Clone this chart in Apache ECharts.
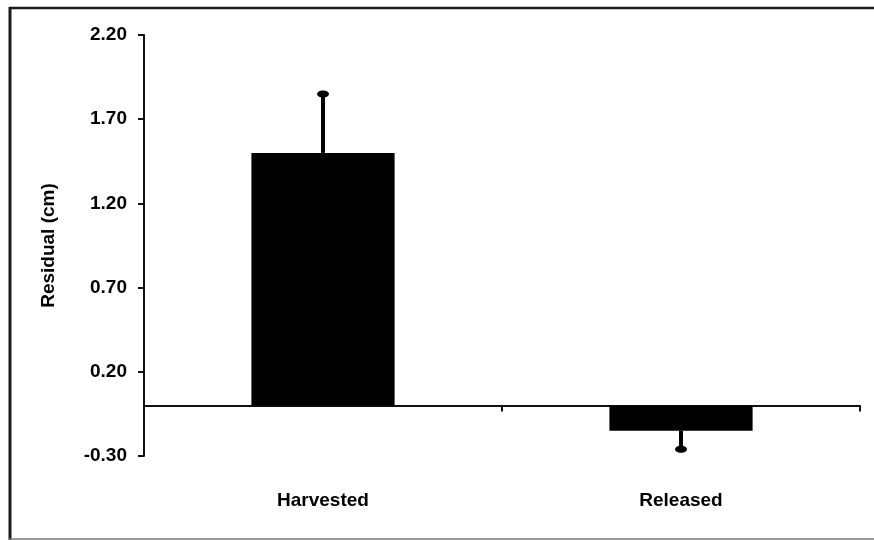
<!DOCTYPE html>
<html>
<head>
<meta charset="utf-8">
<script src="https://cdn.jsdelivr.net/npm/echarts@6/dist/echarts.min.js"></script>
<style>
  html, body { margin: 0; padding: 0; background: #fff; }
  #chart { width: 874px; height: 540px; }
</style>
</head>
<body>
<div id="chart"></div>
<script>
// Mean residual length by fate, with one-sided standard error bars
var categories = ['Harvested', 'Released'];
var residuals = [1.50, -0.15];
var stdErrors = [0.35, 0.11];
var yTicks = [-0.30, 0.20, 0.70, 1.20, 1.70, 2.20];

var FONT = '"Liberation Sans", Arial, sans-serif';
var INK = '#111';

var chart = echarts.init(document.getElementById('chart'), null, { renderer: 'canvas' });

// error bars drawn away from zero, with a rounded cap at the end
var errData = residuals.map(function (v, i) {
  var end = v >= 0 ? v + stdErrors[i] : v - stdErrors[i];
  return [i, v, end];
});

chart.setOption({
  backgroundColor: '#fff',
  animation: false,
  grid: { left: 144, right: 14, top: 35, bottom: 84 },
  xAxis: [
    {
      type: 'category',
      data: categories,
      boundaryGap: true,
      axisLine: { show: true, onZero: true, lineStyle: { color: INK, width: 2 } },
      axisTick: { show: true, length: 6, lineStyle: { color: INK, width: 2 } },
      axisLabel: { show: false },
      splitLine: { show: false }
    },
    {
      type: 'category',
      data: categories,
      position: 'bottom',
      axisLine: { show: false, onZero: false },
      axisTick: { show: false },
      axisLabel: {
        show: true,
        margin: 35,
        color: '#000',
        fontFamily: FONT,
        fontWeight: 'bold',
        fontSize: 19
      },
      splitLine: { show: false }
    }
  ],
  yAxis: {
    type: 'value',
    min: yTicks[0],
    max: yTicks[yTicks.length - 1],
    interval: 0.5,
    name: 'Residual (cm)',
    nameLocation: 'middle',
    nameGap: 86,
    nameRotate: 90,
    nameTextStyle: {
      color: '#000',
      fontFamily: FONT,
      fontWeight: 'bold',
      fontSize: 19
    },
    axisLine: { show: true, lineStyle: { color: INK, width: 2 } },
    axisTick: { show: true, length: 6, lineStyle: { color: INK, width: 2 } },
    axisLabel: {
      margin: 17,
      color: '#000',
      fontFamily: FONT,
      fontWeight: 'bold',
      fontSize: 19,
      padding: [4, 0, 0, 0],
      formatter: function (v) { return v.toFixed(2); }
    },
    splitLine: { show: false }
  },
  series: [
    {
      type: 'bar',
      xAxisIndex: 0,
      data: residuals,
      barWidth: '40%',
      itemStyle: { color: '#000' },
      z: 2
    },
    {
      type: 'custom',
      xAxisIndex: 0,
      data: errData,
      z: 3,
      renderItem: function (params, api) {
        var base = api.coord([api.value(0), api.value(1)]);
        var tip = api.coord([api.value(0), api.value(2)]);
        return {
          type: 'group',
          children: [
            {
              type: 'line',
              shape: { x1: base[0], y1: base[1], x2: tip[0], y2: tip[1] },
              style: { stroke: '#000', lineWidth: 4 }
            },
            {
              type: 'ellipse',
              shape: { cx: tip[0], cy: tip[1], rx: 6, ry: 3.5 },
              style: { fill: '#000' }
            }
          ]
        };
      }
    }
  ],
  graphic: [
    { type: 'line', shape: { x1: 10, y1: 7, x2: 10, y2: 540 }, style: { stroke: '#1a1a1a', lineWidth: 3 } },
    { type: 'line', shape: { x1: 9, y1: 8, x2: 874, y2: 8 }, style: { stroke: '#1a1a1a', lineWidth: 2.5 } },
    { type: 'line', shape: { x1: 9, y1: 539, x2: 874, y2: 539 }, style: { stroke: '#777', lineWidth: 1.5 } }
  ]
});
</script>
</body>
</html>
